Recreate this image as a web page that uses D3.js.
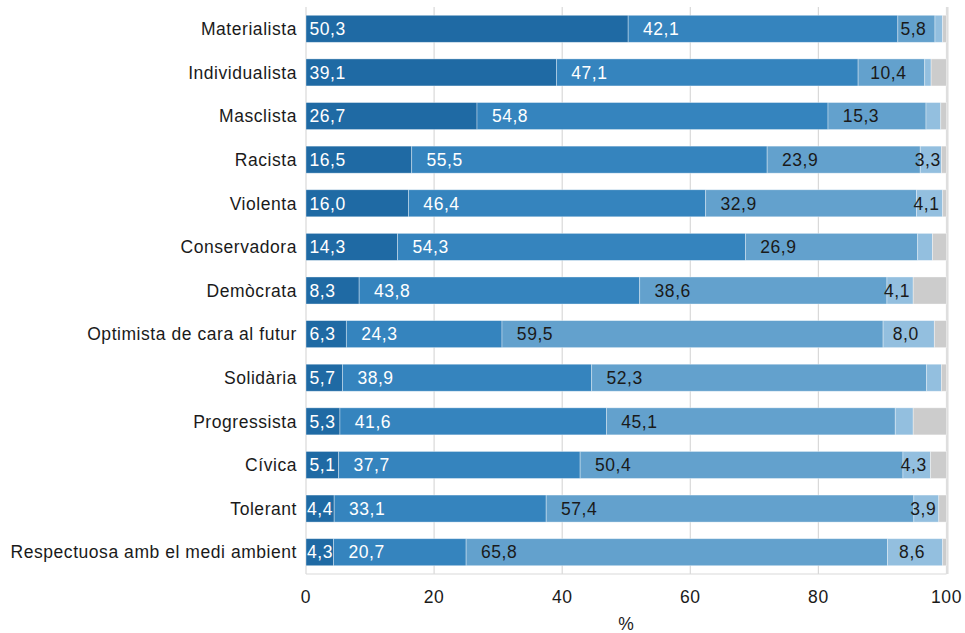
<!DOCTYPE html>
<html>
<head>
<meta charset="utf-8">
<script src="https://cdn.jsdelivr.net/npm/d3@7"></script>
<style>
  body { margin: 0; background: #fff; }
  svg { display: block; font-family: "Liberation Sans", Arial, sans-serif; }
  svg text { letter-spacing: 0.55px; }
</style>
</head>
<body>
<svg id="chart" width="965" height="633"></svg>
<script>
const categories = ["Materialista","Individualista","Masclista","Racista","Violenta","Conservadora","Demòcrata","Optimista de cara al futur","Solidària","Progressista","Cívica","Tolerant","Respectuosa amb el medi ambient"];
const series1 = [50.3,39.1,26.7,16.5,16.0,14.3,8.3,6.3,5.7,5.3,5.1,4.4,4.3];
const series2 = [42.1,47.1,54.8,55.5,46.4,54.3,43.8,24.3,38.9,41.6,37.7,33.1,20.7];
const series3 = [5.8,10.4,15.3,23.9,32.9,26.9,38.6,59.5,52.3,45.1,50.4,57.4,65.8];
const series4 = [1.2,1.0,2.3,3.3,4.1,2.3,4.1,8.0,2.3,2.8,4.3,3.9,8.6];
const series5 = [0.6,2.4,0.9,0.8,0.6,2.2,5.2,1.9,0.8,5.2,2.5,1.2,0.6];
const xTicks = [0,20,40,60,80,100];
const xTitle = "%";

const seriesList = [series1, series2, series3, series4, series5];
const colors = ["#1f6aa4", "#3584be", "#63a1cd", "#93bfdf", "#cccccc"];
const textColors = ["#ffffff", "#ffffff", "#1a1a1a", "#1a1a1a", "#1a1a1a"];
const FS = 17.5;

const svg = d3.select("#chart");
const x = d3.scaleLinear().domain([0, 100]).range([306, 946.5]);
const y = d3.scaleBand().domain(categories).range([7, 574]).paddingInner(0.38).paddingOuter(0.19);

const fmt = v => v.toFixed(1).replace(".", ",");

// gridlines
svg.append("g").selectAll("line").data(xTicks).join("line")
  .attr("x1", d => x(d)).attr("x2", d => x(d))
  .attr("y1", 7).attr("y2", 574)
  .attr("stroke", "#d9d9d9").attr("stroke-width", 1.2);
svg.append("line").attr("x1", x(0)).attr("x2", x(100)).attr("y1", 574).attr("y2", 574)
  .attr("stroke", "#d9d9d9").attr("stroke-width", 1.2);
svg.append("line").attr("x1", x(100) + 0.8).attr("x2", x(100) + 0.8).attr("y1", 7).attr("y2", 574)
  .attr("stroke", "#dedede").attr("stroke-width", 2.5);

// build stacked data
const rows = categories.map((c, i) => {
  let acc = 0;
  return seriesList.map((s, k) => {
    const v = s[i];
    const seg = { cat: c, k, v, x0: acc, x1: acc + v };
    acc += v;
    return seg;
  });
});
const segs = rows.flat();

svg.append("g").selectAll("rect").data(segs).join("rect")
  .attr("x", d => x(d.x0))
  .attr("y", d => y(d.cat))
  .attr("width", d => x(d.x1) - x(d.x0))
  .attr("height", y.bandwidth())
  .attr("fill", d => colors[d.k])
  .attr("stroke", "rgba(255,255,255,0.45)")
  .attr("stroke-width", 0.8);

// labels
const labeled = segs.filter(d => d.k < 4 && d.v >= 3);
svg.append("g").selectAll("text").data(labeled).join("text")
  .attr("x", d => {
    const w = x(d.x1) - x(d.x0);
    if (d.k === 0) return x(d.x0) + (w < 30 ? 1 : 3.5);
    return x(d.x0) + Math.min(w / 2 - 3, 33);
  })
  .attr("y", d => y(d.cat) + y.bandwidth() / 2)
  .attr("dy", "0.36em")
  .attr("text-anchor", d => d.k === 0 ? "start" : "middle")
  .attr("fill", d => textColors[d.k])
  .attr("font-size", FS)
  .text(d => fmt(d.v));

// category labels
svg.append("g").selectAll("text").data(categories).join("text")
  .attr("x", 297)
  .attr("y", d => y(d) + y.bandwidth() / 2)
  .attr("dy", "0.36em")
  .attr("text-anchor", "end")
  .attr("fill", "#1a1a1a")
  .attr("font-size", FS)
  .text(d => d);

// x axis tick labels
svg.append("g").selectAll("text").data(xTicks).join("text")
  .attr("x", d => x(d))
  .attr("y", 597)
  .attr("dy", "0.36em")
  .attr("text-anchor", "middle")
  .attr("fill", "#1a1a1a")
  .attr("font-size", FS)
  .text(d => d);

svg.append("text")
  .attr("x", (x(0) + x(100)) / 2)
  .attr("y", 624)
  .attr("dy", "0.36em")
  .attr("text-anchor", "middle")
  .attr("fill", "#1a1a1a")
  .attr("font-size", FS)
  .text(xTitle);
</script>
</body>
</html>
